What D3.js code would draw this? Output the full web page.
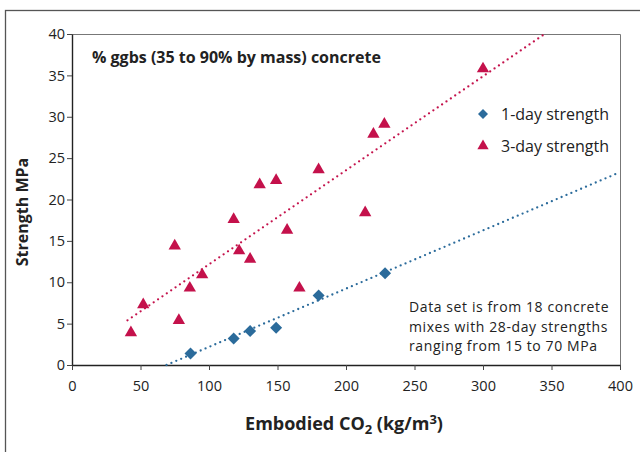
<!doctype html>
<html lang="en">
<head>
<meta charset="UTF-8">
<title>Strength vs embodied CO2</title>
<style>
  body { margin: 0; background: #fff; }
  svg text { font-family: "Open Sans", "Noto Sans", sans-serif; fill: #222; }
</style>
</head>
<body>
<div id="chart"></div>
<script src="https://d3js.org/d3.v7.min.js"></script>
<script>
  // 3-day strength (triangles)
  const day3X = [43, 52, 75, 78, 86, 95, 118, 122, 130, 137, 149, 157, 166, 180, 214, 220, 228, 300]
  const day3Y = [3.9, 7.3, 14.4, 5.4, 9.3, 10.9, 17.6, 13.8, 12.8, 21.8, 22.3, 16.3, 9.3, 23.6, 18.4, 27.9, 29.1, 35.8]
  // 1-day strength (diamonds)
  const day1X = [86.5, 118, 130, 149, 180, 228.5]
  const day1Y = [1.4, 3.2, 4.1, 4.5, 8.4, 11.1]
  // trend line ends
  const trend3 = [[40.5, 5.4], [345, 40]]
  const trend1 = [[69, 0], [400, 23.3]]

  const xTicks = [0, 50, 100, 150, 200, 250, 300, 350, 400]
  const yTicks = [0, 5, 10, 15, 20, 25, 30, 35, 40]

  const red = '#c4114b'
  const blue = '#2b6b9b'

  const W = 640, H = 452
  const pLeft = 72, pRight = 620, pTop = 34, pBottom = 365

  const svg = d3.select('#chart').append('svg')
    .attr('width', W).attr('height', H)

  // outer frame
  svg.append('rect')
    .attr('x', 5.5).attr('y', 10.5)
    .attr('width', 660).attr('height', 460)
    .attr('fill', 'none').attr('stroke', '#555').attr('stroke-width', 1.3)

  const x = d3.scaleLinear().domain([0, 400]).range([pLeft, pRight])
  const y = d3.scaleLinear().domain([0, 40]).range([pBottom, pTop])

  // plot frame top/right
  svg.append('path')
    .attr('d', `M${pLeft},${pTop + 0.5}H${pRight + 0.5}V${pBottom}`)
    .attr('fill', 'none').attr('stroke', '#777').attr('stroke-width', 1)

  const xAxis = svg.append('g')
    .attr('transform', `translate(0,${pBottom})`)
    .call(d3.axisBottom(x).tickValues(xTicks).tickSize(5).tickSizeOuter(0))
  const yAxis = svg.append('g')
    .attr('transform', `translate(${pLeft},0)`)
    .call(d3.axisLeft(y).tickValues(yTicks).tickSize(5).tickSizeOuter(0))

  ;[xAxis, yAxis].forEach(a => {
    a.select('.domain').attr('stroke', '#222').attr('stroke-width', 1.4)
    a.selectAll('.tick line').attr('stroke', '#444')
    a.selectAll('.tick text')
      .style('font-size', '14.5px').attr('fill', '#333')
  })
  xAxis.selectAll('.tick text').attr('dy', '1.25em')
  yAxis.selectAll('.tick text').attr('x', -7)

  // trend lines
  const line = d3.line().x(d => x(d[0])).y(d => y(d[1]))
  svg.append('path').datum(trend3).attr('d', line)
    .attr('stroke', red).attr('stroke-width', 2.3).attr('fill', 'none')
    .attr('stroke-linecap', 'round').attr('stroke-dasharray', '0 5.3')
  svg.append('path').datum(trend1).attr('d', line)
    .attr('stroke', blue).attr('stroke-width', 2.3).attr('fill', 'none')
    .attr('stroke-linecap', 'round').attr('stroke-dasharray', '0 5.3')

  const tri = d3.symbol().type(d3.symbolTriangle).size(66)
  const dia = d3.symbol().type(d3.symbolSquare).size(72)

  svg.selectAll('.t3').data(day3X).enter().append('path')
    .attr('class', 't3')
    .attr('d', tri)
    .attr('transform', (d, i) => `translate(${x(d)},${y(day3Y[i])})`)
    .attr('fill', red)

  svg.selectAll('.d1').data(day1X).enter().append('path')
    .attr('class', 'd1')
    .attr('d', dia)
    .attr('transform', (d, i) => `translate(${x(d)},${y(day1Y[i])}) rotate(45)`)
    .attr('fill', blue)

  // title inside plot
  svg.append('text')
    .attr('x', 92).attr('y', 63)
    .style('font-size', '16px').style('font-weight', 'bold')
    .text('% ggbs (35 to 90% by mass) concrete')

  // legend
  const legend = svg.append('g')
  legend.append('path').attr('d', d3.symbol().type(d3.symbolSquare).size(50))
    .attr('transform', 'translate(483,114) rotate(45)').attr('fill', blue)
  legend.append('path').attr('d', d3.symbol().type(d3.symbolTriangle).size(55))
    .attr('transform', 'translate(483,146)').attr('fill', red)
  legend.append('text').attr('x', 501).attr('y', 120)
    .style('font-size', '16px').text('1-day strength')
  legend.append('text').attr('x', 501).attr('y', 152)
    .style('font-size', '16px').text('3-day strength')

  // note
  const note = ['Data set is from 18 concrete', 'mixes with 28-day strengths', 'ranging from 15 to 70 MPa']
  svg.selectAll('.note').data(note).enter().append('text')
    .attr('class', 'note')
    .attr('x', 409).attr('y', (d, i) => 312 + i * 19.5)
    .style('font-size', '14px').style('letter-spacing', '0.6px')
    .text(d => d)

  // axis titles
  const xt = svg.append('text')
    .attr('x', 344).attr('y', 430).attr('text-anchor', 'middle')
    .style('font-size', '18px').style('font-weight', 'bold')
  xt.append('tspan').text('Embodied CO')
  xt.append('tspan').attr('dy', 4).style('font-size', '13px').text('2')
  xt.append('tspan').attr('dy', -4).text(' (kg/m')
  xt.append('tspan').attr('dy', -6).style('font-size', '13px').text('3')
  xt.append('tspan').attr('dy', 6).text(')')

  svg.append('text')
    .attr('transform', 'translate(28,212) rotate(-90)')
    .attr('text-anchor', 'middle')
    .style('font-size', '16px').style('font-weight', 'bold')
    .text('Strength MPa')
</script>
</body>
</html>
